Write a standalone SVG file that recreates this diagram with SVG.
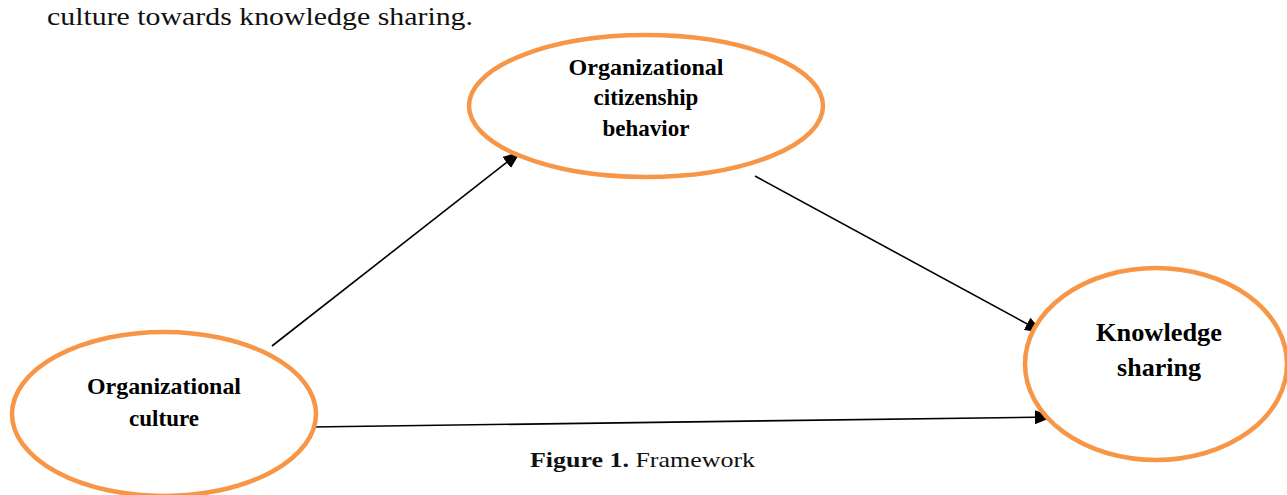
<svg xmlns="http://www.w3.org/2000/svg" width="1287" height="495" viewBox="0 0 1287 495">
<style>
.node{fill:#fff;stroke:#F79646;stroke-width:4.5}
.lbl{font-family:"Liberation Serif",serif;font-weight:bold;fill:#000;text-anchor:middle}
.edge{stroke:#000;stroke-width:1.6;fill:none;marker-end:url(#ah)}
.body{font-family:"Liberation Serif",serif;fill:#111}
</style>
<defs>
<marker id="ah" viewBox="0 0 18 14" refX="17" refY="7" markerWidth="18" markerHeight="14" markerUnits="userSpaceOnUse" orient="auto">
<path d="M0,0 L18,7 L0,14 Z" fill="#000"/>
</marker>
</defs>
<rect width="1287" height="495" fill="#fff"/>
<text class="body" x="47" y="25" font-size="25" textLength="426" lengthAdjust="spacingAndGlyphs">culture towards knowledge sharing.</text>
<g id="connectors">
<line class="edge" x1="272" y1="346" x2="520" y2="152"/>
<line class="edge" x1="755" y1="176" x2="1042" y2="332"/>
<line class="edge" x1="311" y1="427" x2="1052" y2="417"/>
</g>
<g id="ocb">
<ellipse class="node" cx="646" cy="106" rx="177" ry="71"/>
<text class="lbl" font-size="23" x="646" y="75" textLength="155" lengthAdjust="spacingAndGlyphs">Organizational</text>
<text class="lbl" font-size="23" x="646" y="105">citizenship</text>
<text class="lbl" font-size="23" x="646" y="136">behavior</text>
</g>
<g id="oc">
<ellipse class="node" cx="164" cy="414" rx="152" ry="82"/>
<text class="lbl" font-size="23" x="164" y="394" textLength="154" lengthAdjust="spacingAndGlyphs">Organizational</text>
<text class="lbl" font-size="23" x="164" y="426">culture</text>
</g>
<g id="ks">
<ellipse class="node" cx="1156" cy="364" rx="131" ry="96"/>
<text class="lbl" font-size="26" x="1159" y="341" textLength="126" lengthAdjust="spacingAndGlyphs">Knowledge</text>
<text class="lbl" font-size="26" x="1159" y="376">sharing</text>
</g>
<text class="body" x="530" y="467" font-size="22" textLength="225" lengthAdjust="spacingAndGlyphs"><tspan font-weight="bold">Figure 1.</tspan> Framework</text>
</svg>
